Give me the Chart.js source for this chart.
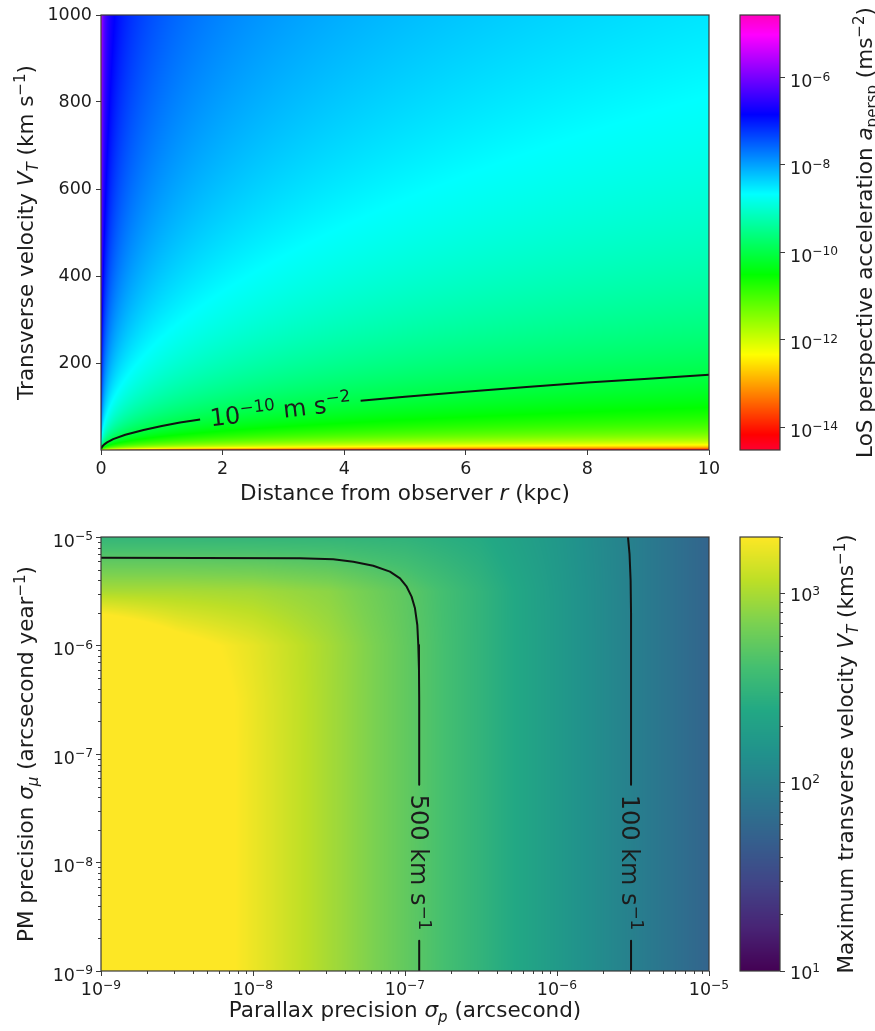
<!DOCTYPE html>
<html><head><meta charset="utf-8">
<script src="https://cdn.jsdelivr.net/npm/chart.js@4.4.1/dist/chart.umd.min.js"></script>
<style>
html,body{margin:0;padding:0;background:#fff;}
body{width:875px;height:1031px;position:relative;overflow:hidden;}
.box{position:absolute;}
canvas{display:block;}
</style></head><body>
<div class="box" style="left:0;top:0;"><canvas id="c1" width="745" height="520"></canvas></div>
<div class="box" style="left:730px;top:0;"><canvas id="c2" width="145" height="520"></canvas></div>
<div class="box" style="left:0;top:520px;"><canvas id="c3" width="745" height="511"></canvas></div>
<div class="box" style="left:730px;top:520px;"><canvas id="c4" width="145" height="511"></canvas></div>
<script>
// ---------------- DATA ----------------
// Top panel: LoS perspective acceleration (log10, m s^-2) on a grid of distance x velocity
const distanceKpc = [0.001, 0.003, 0.01, 0.03, 0.1, 0.3, 1, 3, 10];
const velocityKms = [1, 3, 10, 30, 100, 300, 1000];
const log10Accel = [
  [-10.49, -10.97, -11.49, -11.97, -12.49, -12.97, -13.49, -13.97, -14.49],
  [-9.54, -10.01, -10.54, -11.01, -11.54, -12.01, -12.54, -13.01, -13.54],
  [-8.49, -8.97, -9.49, -9.97, -10.49, -10.97, -11.49, -11.97, -12.49],
  [-7.54, -8.01, -8.54, -9.01, -9.54, -10.01, -10.54, -11.01, -11.54],
  [-6.49, -6.97, -7.49, -7.97, -8.49, -8.97, -9.49, -9.97, -10.49],
  [-5.54, -6.01, -6.54, -7.01, -7.54, -8.01, -8.54, -9.01, -9.54],
  [-4.49, -4.97, -5.49, -5.97, -6.49, -6.97, -7.49, -7.97, -8.49]
];
const distanceTicks = [0, 2, 4, 6, 8, 10];
const velocityTicks = [200, 400, 600, 800, 1000];
const accelRangeLog = [-14.47, -4.57];
const accelCbarTicks = [1e-14, 1e-12, 1e-10, 1e-8, 1e-6];
// contour 1e-10 m s^-2 (null = gap for the label)
const contourDist = [0.003, 0.02, 0.05, 0.1, 0.2, 0.4, 0.7, 1.0, 1.3, 1.63, null, 4.27, 5, 6, 7, 8, 9, 10];
const contourVel  = [3, 8, 12.5, 17.5, 25, 35, 46, 55, 63, 70, null, 113, 122.5, 134, 145, 155, 164, 173];
const contourAccelLabelAt = [2.95, 93];

// Bottom panel: maximum transverse velocity (km/s) on a grid of parallax precision x PM precision
const parallaxPrec = [1e-9, 3.16e-9, 1e-8, 3.16e-8, 1e-7, 3.16e-7, 1e-6, 3.16e-6, 1e-5];
const pmPrec       = [1e-9, 3.16e-9, 1e-8, 3.16e-8, 1e-7, 3.16e-7, 1e-6, 3.16e-6, 1e-5];
const maxVT = [
  [5500, 3100, 1750, 980, 550, 310, 175, 98, 55],
  [5500, 3100, 1750, 980, 550, 310, 175, 98, 55],
  [5500, 3100, 1750, 980, 550, 310, 175, 98, 55],
  [5500, 3100, 1750, 980, 550, 310, 175, 98, 55],
  [5500, 3100, 1750, 980, 550, 310, 175, 98, 55],
  [5250, 3100, 1740, 980, 550, 310, 175, 98, 55],
  [5250, 2500, 1660, 975, 550, 310, 175, 98, 55],
  [1000, 1000, 955, 795, 525, 310, 174, 98, 55],
  [320, 320, 318, 316, 302, 251, 166, 98, 55]
];
const precTicks = [1e-9, 1e-8, 1e-7, 1e-6, 1e-5];
const vtRange = [10, 2000];
const vtCbarTicks = [10, 100, 1000];
const c500Par = [1e-9, 2.04e-8, 3.37e-8, 4.57e-8, 6.18e-8, 7.96e-8, 9.27e-8, 1.026e-7, 1.105e-7, 1.163e-7, 1.205e-7, 1.223e-7, 1.236e-7, 1.24e-7, 1.24e-7, null, 1.24e-7, 1.24e-7];
const c500Pm  = [6.44e-6, 6.37e-6, 6.23e-6, 5.92e-6, 5.44e-6, 4.79e-6, 4.16e-6, 3.48e-6, 2.82e-6, 2.2e-6, 1.545e-6, 1.01e-6, 5.94e-7, 3.15e-7, 5.2e-8, null, 1.9e-9, 1e-9];
const c100Par = [2.93e-6, 3.0e-6, 3.05e-6, 3.07e-6, 3.07e-6, null, 3.07e-6, 3.07e-6];
const c100Pm  = [1e-5, 7e-6, 4e-6, 2e-6, 5.2e-8, null, 1.9e-9, 1e-9];
const c500LabelAt = [1.24e-7, 1e-8];
const c100LabelAt = [3.07e-6, 1e-8];

// ---------------- STYLE ----------------
const FONT = '"DejaVu Sans", "Liberation Sans", sans-serif';
const INK = '#1c1c1c';
const TICK = 17.5, TITLE = 21.5, CLAB = 24;

function hexRgb(h){ return [parseInt(h.slice(1,3),16),parseInt(h.slice(3,5),16),parseInt(h.slice(5,7),16)]; }
const VIR = ['#440154','#482475','#414487','#355f8d','#2a788e','#21918c','#22a884','#44bf70','#7ad151','#bddf26','#fde725'].map(hexRgb);
function viridis(t){ t=Math.max(0,Math.min(1,t)); const s=t*10; const i=Math.min(9,Math.floor(s)); const f=s-i;
  const a=VIR[i], b=VIR[i+1]; return [a[0]+(b[0]-a[0])*f, a[1]+(b[1]-a[1])*f, a[2]+(b[2]-a[2])*f]; }
const RB = [[0,[1,0,0.16]],[0.03,[1,0,0]],[0.215,[1,1,0]],[0.4,[0,1,0]],[0.586,[0,1,1]],[0.77,[0,0,1]],[0.954,[1,0,1]],[1,[1,0,0.75]]];
function rainbow(t){ t=Math.max(0,Math.min(1,t)); let i=0; while(i<RB.length-2 && t>RB[i+1][0]) i++;
  const [t0,a]=RB[i], [t1,b]=RB[i+1]; const f=(t-t0)/(t1-t0);
  return [255*(a[0]+(b[0]-a[0])*f), 255*(a[1]+(b[1]-a[1])*f), 255*(a[2]+(b[2]-a[2])*f)]; }

function locate(nodes, v){
  const n=nodes.length;
  if (!(v>nodes[0])) return [0,0];
  if (v>=nodes[n-1]) return [n-2,1];
  let i=0; while(v>nodes[i+1]) i++;
  return [i,(v-nodes[i])/(nodes[i+1]-nodes[i])];
}

function drawRich(ctx, parts, x, y, angle, size, baseOff, align){
  ctx.save(); ctx.translate(x,y); ctx.rotate(angle);
  const items = parts.map(([t,f=''])=>{
    const small = f.includes('^')||f.includes('_');
    const s = small ? size*0.7 : size;
    const font = (f.includes('i')?'italic ':'') + s + 'px ' + FONT;
    ctx.font = font;
    return {t, font, w: ctx.measureText(t).width, dy: f.includes('^') ? -0.37*size : (f.includes('_') ? 0.22*size : 0)};
  });
  const total = items.reduce((s,it)=>s+it.w,0);
  let cx = align==='left' ? 0 : (align==='right' ? -total : -total/2);
  ctx.textAlign='left'; ctx.textBaseline='alphabetic'; ctx.fillStyle=INK;
  for (const it of items){ ctx.font=it.font; ctx.fillText(it.t, cx, (baseOff||0)+it.dy); cx+=it.w; }
  ctx.restore();
}
function powParts(v){ const e=Math.round(Math.log10(v)); return [['10'],[String(e).replace('-','−'),'^']]; }

function heatPlugin(cfg){
  return { id:'heat', beforeDatasetsDraw(chart){
    const ctx=chart.ctx, a=chart.chartArea, xs=chart.scales.x, ys=chart.scales.y;
    const L=Math.round(a.left), T=Math.round(a.top), W=Math.round(a.right)-L, H=Math.round(a.bottom)-T;
    const img=ctx.createImageData(W,H), d=img.data;
    const cx=[], cy=[];
    for(let i=0;i<W;i++){ const v=xs.getValueForPixel(L+i+0.5); cx.push(locate(cfg.xNodes, Math.log10(Math.max(v,1e-30)))); }
    for(let j=0;j<H;j++){ const v=ys.getValueForPixel(T+j+0.5); cy.push(locate(cfg.yNodes, Math.log10(Math.max(v,1e-30)))); }
    const g=cfg.grid; let k=0;
    for(let j=0;j<H;j++){ const [iy,fy]=cy[j]; const r0=g[iy], r1=g[iy+1];
      for(let i=0;i<W;i++){ const [ix,fx]=cx[i];
        const v=(1-fy)*((1-fx)*r0[ix]+fx*r0[ix+1]) + fy*((1-fx)*r1[ix]+fx*r1[ix+1]);
        const c=cfg.cmap((v-cfg.vmin)/(cfg.vmax-cfg.vmin));
        d[k++]=c[0]; d[k++]=c[1]; d[k++]=c[2]; d[k++]=255; } }
    ctx.putImageData(img,L,T);
  }};
}
function cbarPlugin(cfg){
  return { id:'cbar', beforeDatasetsDraw(chart){
    const ctx=chart.ctx, a=chart.chartArea, ys=chart.scales.y;
    for(let py=Math.round(a.top); py<Math.round(a.bottom); py++){
      const v=Math.log10(ys.getValueForPixel(py+0.5));
      const c=cfg.cmap((v-cfg.vmin)/(cfg.vmax-cfg.vmin));
      ctx.fillStyle='rgb('+c.map(Math.round).join(',')+')';
      ctx.fillRect(a.left, py, a.right-a.left, 1);
    }
  }};
}
function framePlugin(extra){
  return { id:'frame', afterDraw(chart){
    const ctx=chart.ctx, a=chart.chartArea;
    ctx.save(); ctx.strokeStyle='#3a3a3a'; ctx.lineWidth=1.2;
    ctx.strokeRect(a.left, a.top, a.right-a.left, a.bottom-a.top);
    ctx.restore();
    if (extra) extra(chart);
  }};
}
function minorTicks(ctx, scale, side, a, decades){
  ctx.save(); ctx.strokeStyle='#3a3a3a'; ctx.lineWidth=1; ctx.beginPath();
  for (const d of decades) for (let m=2;m<=9;m++){
    const v=m*Math.pow(10,d); if (v<scale.min*0.999 || v>scale.max*1.001) continue;
    const p=Math.round(scale.getPixelForValue(v))+0.5;
    if (side==='bottom'){ ctx.moveTo(p,a.bottom); ctx.lineTo(p,a.bottom+3); }
    if (side==='left'){ ctx.moveTo(a.left,p); ctx.lineTo(a.left-3,p); }
    if (side==='right'){ ctx.moveTo(a.right,p); ctx.lineTo(a.right+3,p); }
  }
  ctx.stroke(); ctx.restore();
}
// log tick labels drawn as 10^n text at the library's tick positions
function logLabels(ctx, scale, side, a, dy){
  for (const t of scale.ticks){
    const p = scale.getPixelForValue(t.value);
    if (side==='bottom') drawRich(ctx, powParts(t.value), p, a.bottom+dy, 0, TICK, 0, 'center');
    if (side==='left') drawRich(ctx, powParts(t.value), a.left-8, p+dy, 0, TICK, 0, 'right');
    if (side==='right') drawRich(ctx, powParts(t.value), a.right+10, p+dy, 0, TICK, 0, 'left');
  }
}

function segments(xs, ys){
  const out=[]; let cur=[];
  xs.forEach((x,i)=>{ if(x==null){ if(cur.length) out.push(cur); cur=[]; } else cur.push({x, y:ys[i]}); });
  if(cur.length) out.push(cur);
  return out;
}
function lineSets(xs, ys){
  return segments(xs,ys).map(s=>({data:s, showLine:true, borderColor:'#111', borderWidth:2, pointRadius:0, fill:false, borderJoinStyle:'round'}));
}

function axis(type, min, max, ticks, fmt, fit){
  return { type, min, max,
    afterBuildTicks: s=>{ s.ticks = ticks.map(v=>({value:v})); },
    afterFit: s=>{ fit(s); s.paddingLeft=0; s.paddingRight=0; s.paddingTop=0; s.paddingBottom=0; },
    grid:{ display:true, drawOnChartArea:false, drawTicks:true, tickLength:5, color:'#3a3a3a', lineWidth:1 },
    border:{ display:false },
    ticks:{ font:{family:FONT, size:TICK}, color:INK, padding:4, maxRotation:0, autoSkip:false, callback: fmt }
  };
}
const blank = ()=>'';
const common = { responsive:false, animation:false, devicePixelRatio:1, events:[],
  plugins:{ legend:{display:false}, tooltip:{enabled:false} } };

// ---------------- TOP HEATMAP ----------------
new Chart(document.getElementById('c1'), {
  type:'scatter',
  data:{ datasets: lineSets(contourDist, contourVel) },
  options: Object.assign({}, common, {
    layout:{ autoPadding:false, padding:{left:0, top:15, right:36, bottom:0} },
    scales:{
      x: axis('linear', 0, 10, distanceTicks, v=>String(v), s=>{ s.height=70; }),
      y: axis('linear', 0, 1000, velocityTicks, v=>String(v), s=>{ s.width=101; })
    }
  }),
  plugins:[
    heatPlugin({ xNodes: distanceKpc.map(Math.log10), yNodes: velocityKms.map(Math.log10), grid: log10Accel, cmap: rainbow, vmin: accelRangeLog[0], vmax: accelRangeLog[1] }),
    framePlugin(chart=>{
      const ctx=chart.ctx, a=chart.chartArea, xs=chart.scales.x, ys=chart.scales.y;
      const gap = contourDist.indexOf(null);
      const p1x=xs.getPixelForValue(contourDist[gap-1]), p1y=ys.getPixelForValue(contourVel[gap-1]);
      const p2x=xs.getPixelForValue(contourDist[gap+1]), p2y=ys.getPixelForValue(contourVel[gap+1]);
      const ang=Math.atan2(p2y-p1y, p2x-p1x);
      drawRich(ctx, [['10'],['−10','^'],[' m s'],['−2','^']], xs.getPixelForValue(contourAccelLabelAt[0]), ys.getPixelForValue(contourAccelLabelAt[1]), ang, CLAB, 0.36*CLAB);
      drawRich(ctx, [['Distance from observer '],['r','i'],[' (kpc)']], (a.left+a.right)/2, a.bottom+49.5, 0, TITLE, 0);
      drawRich(ctx, [['Transverse velocity '],['V','i'],['T','i_'],[' (km s'],['−1','^'],[')']], a.left-68, (a.top+a.bottom)/2, -Math.PI/2, TITLE, 0);
    })
  ]
});

// ---------------- TOP COLORBAR ----------------
new Chart(document.getElementById('c2'), {
  type:'scatter', data:{ datasets:[] },
  options: Object.assign({}, common, {
    layout:{ autoPadding:false, padding:{left:10, top:15, right:0, bottom:70} },
    scales:{
      x:{ display:false },
      y: Object.assign(axis('logarithmic', Math.pow(10,accelRangeLog[0]), Math.pow(10,accelRangeLog[1]), accelCbarTicks, blank, s=>{ s.width=95; }), {position:'right'})
    }
  }),
  plugins:[
    cbarPlugin({ cmap: rainbow, vmin: accelRangeLog[0], vmax: accelRangeLog[1] }),
    framePlugin(chart=>{
      const a=chart.chartArea;
      logLabels(chart.ctx, chart.scales.y, 'right', a, 9.5);
      drawRich(chart.ctx, [['LoS perspective acceleration '],['a','i'],['persp','_'],[' (ms'],['−2','^'],[')']], a.right+92, (a.top+a.bottom)/2, -Math.PI/2, TITLE, 0);
    })
  ]
});

// ---------------- BOTTOM HEATMAP ----------------
const parSets = lineSets(c500Par, c500Pm).concat(lineSets(c100Par, c100Pm));
new Chart(document.getElementById('c3'), {
  type:'scatter',
  data:{ datasets: parSets },
  options: Object.assign({}, common, {
    layout:{ autoPadding:false, padding:{left:0, top:17, right:36, bottom:0} },
    scales:{
      x: axis('logarithmic', precTicks[0], precTicks[precTicks.length-1], precTicks, blank, s=>{ s.height=60; }),
      y: axis('logarithmic', precTicks[0], precTicks[precTicks.length-1], precTicks, blank, s=>{ s.width=101; })
    }
  }),
  plugins:[
    heatPlugin({ xNodes: parallaxPrec.map(Math.log10), yNodes: pmPrec.map(Math.log10), grid: maxVT.map(r=>r.map(Math.log10)), cmap: viridis, vmin: Math.log10(vtRange[0]), vmax: Math.log10(vtRange[1]) }),
    framePlugin(chart=>{
      const ctx=chart.ctx, a=chart.chartArea, xs=chart.scales.x, ys=chart.scales.y;
      minorTicks(ctx, xs, 'bottom', a, [-9,-8,-7,-6]);
      minorTicks(ctx, ys, 'left', a, [-9,-8,-7,-6]);
      logLabels(ctx, xs, 'bottom', a, 24);
      logLabels(ctx, ys, 'left', a, 9.5);
      drawRich(ctx, [['500 km s'],['−1','^']], xs.getPixelForValue(c500LabelAt[0]), ys.getPixelForValue(c500LabelAt[1]), Math.PI/2, CLAB, 0.36*CLAB);
      drawRich(ctx, [['100 km s'],['−1','^']], xs.getPixelForValue(c100LabelAt[0]), ys.getPixelForValue(c100LabelAt[1]), Math.PI/2, CLAB, 0.36*CLAB);
      drawRich(ctx, [['Parallax precision '],['σ','i'],['p','i_'],[' (arcsecond)']], (a.left+a.right)/2, a.bottom+46, 0, TITLE, 0);
      drawRich(ctx, [['PM precision '],['σ','i'],['μ','i_'],[' (arcsecond year'],['−1','^'],[')']], a.left-68, (a.top+a.bottom)/2, -Math.PI/2, TITLE, 0);
    })
  ]
});

// ---------------- BOTTOM COLORBAR ----------------
new Chart(document.getElementById('c4'), {
  type:'scatter', data:{ datasets:[] },
  options: Object.assign({}, common, {
    layout:{ autoPadding:false, padding:{left:10, top:17, right:0, bottom:60} },
    scales:{
      x:{ display:false },
      y: Object.assign(axis('logarithmic', vtRange[0], vtRange[1], vtCbarTicks, blank, s=>{ s.width=95; }), {position:'right'})
    }
  }),
  plugins:[
    cbarPlugin({ cmap: viridis, vmin: Math.log10(vtRange[0]), vmax: Math.log10(vtRange[1]) }),
    framePlugin(chart=>{
      const a=chart.chartArea;
      minorTicks(chart.ctx, chart.scales.y, 'right', a, [1,2,3]);
      logLabels(chart.ctx, chart.scales.y, 'right', a, 7.5);
      drawRich(chart.ctx, [['Maximum transverse velocity '],['V','i'],['T','i_'],[' (kms'],['−1','^'],[')']], a.right+73, (a.top+a.bottom)/2, -Math.PI/2, TITLE, 0);
    })
  ]
});
</script>
</body></html>
